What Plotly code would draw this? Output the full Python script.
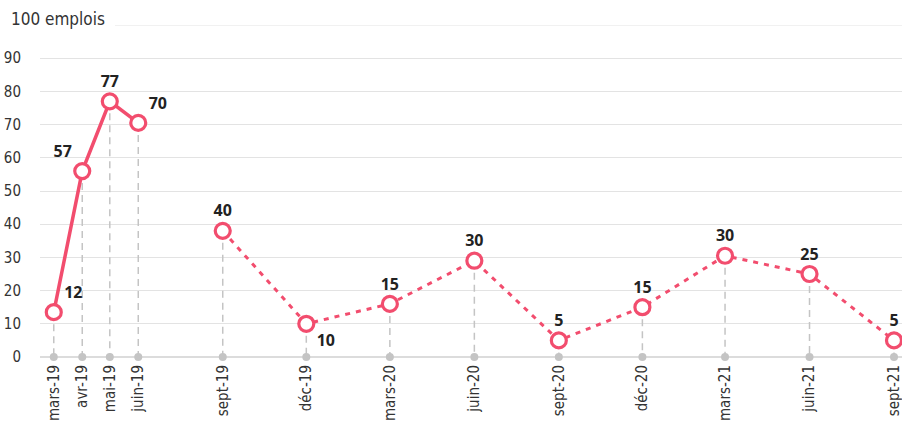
import plotly.graph_objects as go

# Data
dates = ["2019-03-01", "2019-04-01", "2019-05-01", "2019-06-01", "2019-09-01",
         "2019-12-01", "2020-03-01", "2020-06-01", "2020-09-01", "2020-12-01",
         "2021-03-01", "2021-06-01", "2021-09-01"]
tick_labels = ["mars-19", "avr-19", "mai-19", "juin-19", "sept-19", "déc-19",
               "mars-20", "juin-20", "sept-20", "déc-20", "mars-21", "juin-21", "sept-21"]
values = [13.5, 56, 77, 70.5, 38, 10, 16, 29, 5, 15, 30.5, 25, 5]
value_labels = ["12", "57", "77", "70", "40", "10", "15", "30", "5", "15", "30", "25", "5"]
n_monthly = 4  # first points are monthly (solid line), rest quarterly (dotted)

PINK = "#F24D6E"
GRAY = "#c4c4c4"
TICKFONT = "Liberation Sans Narrow, DejaVu Sans Condensed, Roboto"

fig = go.Figure()

# vertical dashed drop lines
vx, vy = [], []
for d, v in zip(dates, values):
    vx += [d, d, None]
    vy += [v, 0, None]
fig.add_trace(go.Scatter(x=vx, y=vy, mode="lines",
                         line=dict(color=GRAY, width=1.5, dash="7px,5px"),
                         hoverinfo="skip", cliponaxis=False))

# gray baseline dots
fig.add_trace(go.Scatter(x=dates, y=[0] * len(dates), mode="markers",
                         marker=dict(color=GRAY, size=8),
                         hoverinfo="skip", cliponaxis=False))

# solid segment
fig.add_trace(go.Scatter(x=dates[:n_monthly], y=values[:n_monthly], mode="lines",
                         line=dict(color=PINK, width=3.5), cliponaxis=False))
# dotted segment
fig.add_trace(go.Scatter(x=dates[n_monthly:], y=values[n_monthly:], mode="lines",
                         line=dict(color=PINK, width=3, dash="5px,6px"), cliponaxis=False))

positions = ["top right", "top left", "top center", "top right", "top center",
             "bottom right", "top center", "top center", "top center", "top center",
             "top center", "top center", "top center"]
fig.add_trace(go.Scatter(x=dates, y=values, mode="markers+text",
                         text=value_labels, textposition=positions,
                         textfont=dict(family="Open Sans, Lato, sans-serif", size=16,
                                       color="#222222", weight=700),
                         marker=dict(symbol="circle", size=15, color="white",
                                     line=dict(color=PINK, width=3.2)),
                         cliponaxis=False))

# 100 gridline (starts after the unit label)
fig.add_shape(type="line", xref="paper", yref="y", x0=0.087, x1=1, y0=100, y1=100,
              line=dict(color="#e3e3e3", width=1.2))
fig.add_annotation(text="100 emplois", xref="paper", yref="y", x=-0.036, y=100,
                   xanchor="left", yanchor="bottom", yshift=-6, showarrow=False,
                   font=dict(family=TICKFONT, size=17, color="#333333"))

fig.update_layout(
    width=902, height=427,
    margin=dict(l=40, r=0, t=25, b=70),
    paper_bgcolor="white", plot_bgcolor="white",
    showlegend=False,
    xaxis=dict(type="date", range=["2019-02-14", "2021-09-09 17:00"],
               tickvals=dates, ticktext=tick_labels, tickangle=-90,
               showgrid=False, zeroline=False, showline=False, ticks="",
               automargin=False, ticklabelstandoff=4, ticklabeloverflow="allow",
               tickfont=dict(family=TICKFONT, size=15, color="#333333")),
    yaxis=dict(range=[0, 100], tickvals=list(range(0, 100, 10)),
               showgrid=True, gridcolor="#e3e3e3", gridwidth=1.2,
               zeroline=True, zerolinecolor="#dcdcdc", zerolinewidth=2,
               showline=False, ticks="", ticklabelstandoff=18, automargin=False,
               tickfont=dict(family=TICKFONT, size=15, color="#333333")),
)

fig.write_html("out.html", config={"displayModeBar": False},
               post_script="document.body.style.margin='0';document.body.style.overflow='hidden';")
